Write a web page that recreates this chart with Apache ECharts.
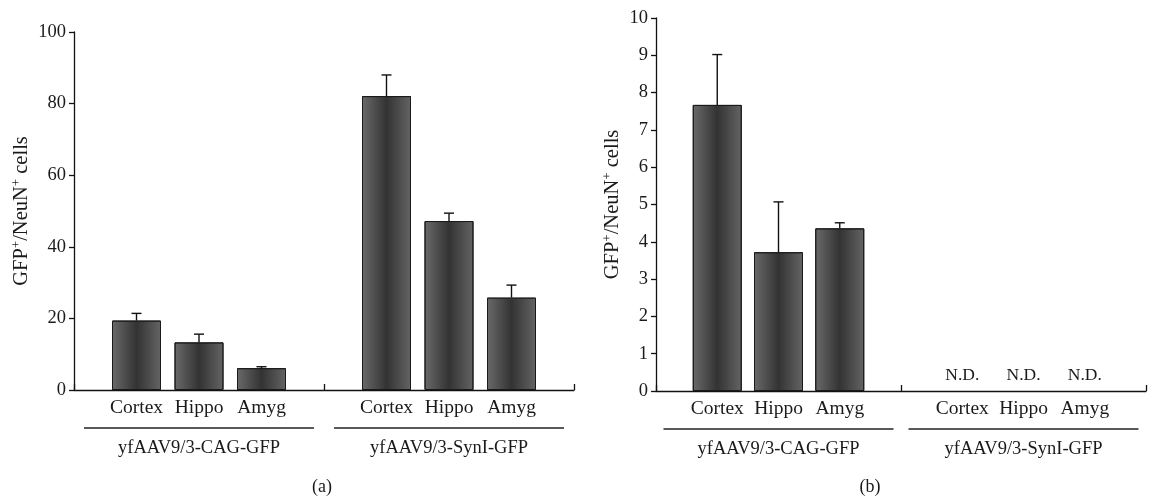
<!DOCTYPE html>
<html><head><meta charset="utf-8">
<script src="https://cdn.jsdelivr.net/npm/echarts@6/dist/echarts.min.js"></script>
<style>html,body{margin:0;background:#fff}#c{width:1149px;height:498px}</style>
</head><body><div id="c"></div>
<script>
// ---- data ----
const regions = ['Cortex', 'Hippo', 'Amyg'];
const groups = ['yfAAV9/3-CAG-GFP', 'yfAAV9/3-SynI-GFP'];
const panelLetters = ['(a)', '(b)'];
const aCagMean = [19.4, 13.3, 6.1];
const aCagErr = [2.0, 2.3, 0.4];
const aSynMean = [82.1, 47.2, 25.8];
const aSynErr = [5.9, 2.2, 3.5];
const bCagMean = [7.67, 3.72, 4.36];
const bCagErr = [1.35, 1.35, 0.15];
const bSynMean = [0, 0, 0];
const bSynNote = ['N.D.', 'N.D.', 'N.D.'];
const aTicks = [0, 20, 40, 60, 80, 100];
const bTicks = [0, 1, 2, 3, 4, 5, 6, 7, 8, 9, 10];

// ---- build ----
const FONT = '"Liberation Serif", "DejaVu Serif", serif';
const TXT = '#1a1a1a';
const cats = [''].concat(regions, [''], regions, ['']);
const g1 = [1, 2, 3], g2 = [5, 6, 7];
function full(v1, v2) {
  const arr = new Array(cats.length).fill(null);
  g1.forEach((k, i) => arr[k] = v1 ? v1[i] : null);
  g2.forEach((k, i) => arr[k] = v2 ? v2[i] : null);
  return arr;
}
function errData(m1, e1, m2, e2) {
  const out = [];
  if (m1) g1.forEach((k, i) => out.push([k, m1[i], e1[i]]));
  if (m2) g2.forEach((k, i) => out.push([k, m2[i], e2[i]]));
  return out;
}
const barColor = {
  type: 'linear', x: 0, y: 0, x2: 1, y2: 0,
  colorStops: [{offset: 0, color: '#6a6a6a'}, {offset: 0.5, color: '#333333'}, {offset: 1, color: '#646464'}]
};
function renderErr(params, api) {
  const x = api.value(0), m = api.value(1), e = api.value(2);
  const p0 = api.coord([x, m]);
  const p1 = api.coord([x, m + e]);
  const hw = 5;
  const st = {stroke: '#111', lineWidth: 1.4};
  return {type: 'group', children: [
    {type: 'line', shape: {x1: p0[0], y1: p0[1], x2: p1[0], y2: p1[1]}, style: st},
    {type: 'line', shape: {x1: p1[0] - hw, y1: p1[1], x2: p1[0] + hw, y2: p1[1]}, style: st}
  ]};
}
function xAxisDef(gi) {
  return {
    type: 'category', gridIndex: gi, data: cats, boundaryGap: false,
    axisLine: {lineStyle: {color: '#111', width: 1.3}},
    axisTick: {inside: true, length: 6, interval: (i) => i === 0 || i === 4 || i === 8, lineStyle: {color: '#111', width: 1.3}},
    axisLabel: {interval: 0, margin: 8, fontFamily: FONT, fontSize: 19.5, color: TXT},
    splitLine: {show: false}
  };
}
function yAxisDef(gi, ticks, gap) {
  return {
    type: 'value', gridIndex: gi, min: ticks[0], max: ticks[ticks.length - 1],
    interval: ticks[1] - ticks[0],
    name: '{n|GFP}{s|+}{n|/NeuN}{s|+}{n| cells}', nameLocation: 'middle', nameGap: gap,
    nameTextStyle: {rich: {
      n: {fontFamily: FONT, fontSize: 20.5, color: TXT, lineHeight: 23},
      s: {fontFamily: FONT, fontSize: 13, color: TXT, verticalAlign: 'top', lineHeight: 23}
    }},
    axisLine: {show: true, lineStyle: {color: '#111', width: 1.3}},
    axisTick: {show: true, inside: false, length: 5, lineStyle: {color: '#111', width: 1.3}},
    axisLabel: {margin: 8, fontFamily: FONT, fontSize: 18.5, color: TXT},
    splitLine: {show: false}
  };
}
const barItem = {color: barColor, borderColor: '#1a1a1a', borderWidth: 1};

const chart = echarts.init(document.getElementById('c'), null, {renderer: 'canvas'});
chart.setOption({
  animation: false,
  backgroundColor: '#fff',
  grid: [
    {left: 74, top: 32, width: 500, height: 358},
    {left: 656, top: 18, width: 500, height: 373}
  ],
  xAxis: [xAxisDef(0), xAxisDef(1)],
  yAxis: [yAxisDef(0, aTicks, 41), yAxisDef(1, bTicks, 32)],
  series: [
    {type: 'bar', xAxisIndex: 0, yAxisIndex: 0, barWidth: 49, data: full(aCagMean, aSynMean), itemStyle: barItem},
    {type: 'custom', xAxisIndex: 0, yAxisIndex: 0, renderItem: renderErr, data: errData(aCagMean, aCagErr, aSynMean, aSynErr), z: 3},
    {type: 'bar', xAxisIndex: 1, yAxisIndex: 1, barWidth: 49, data: full(bCagMean, null), itemStyle: barItem},
    {type: 'custom', xAxisIndex: 1, yAxisIndex: 1, renderItem: renderErr, data: errData(bCagMean, bCagErr, null, null), z: 3},
    {type: 'bar', xAxisIndex: 1, yAxisIndex: 1, barWidth: 49, barGap: '-100%', data: full(null, bSynMean),
      itemStyle: {color: 'rgba(0,0,0,0)', borderWidth: 0},
      label: {show: true, position: 'top', distance: 7, fontFamily: FONT, fontSize: 17.5, color: TXT,
        formatter: (p) => bSynNote[g2.indexOf(p.dataIndex)] || ''}}
  ]
});

// group underlines, group names and panel letters
const gfx = [];
const letterX = [322, 870];
[0, 1].forEach((gi) => {
  const y0 = chart.convertToPixel({yAxisIndex: gi}, 0);
  [2, 6].forEach((ci, k) => {
    const cx = chart.convertToPixel({xAxisIndex: gi}, ci);
    gfx.push({type: 'line', shape: {x1: cx - 115, y1: y0 + 38, x2: cx + 115, y2: y0 + 38}, style: {stroke: '#222', lineWidth: 1.3}});
    gfx.push({type: 'text', x: cx, y: y0 + 58, style: {text: groups[k], font: '18.5px ' + FONT, fill: TXT, align: 'center', verticalAlign: 'middle'}});
  });
  gfx.push({type: 'text', x: letterX[gi], y: 487, style: {text: panelLetters[gi], font: '18px ' + FONT, fill: TXT, align: 'center', verticalAlign: 'middle'}});
});
chart.setOption({graphic: gfx});
</script>
</body></html>
